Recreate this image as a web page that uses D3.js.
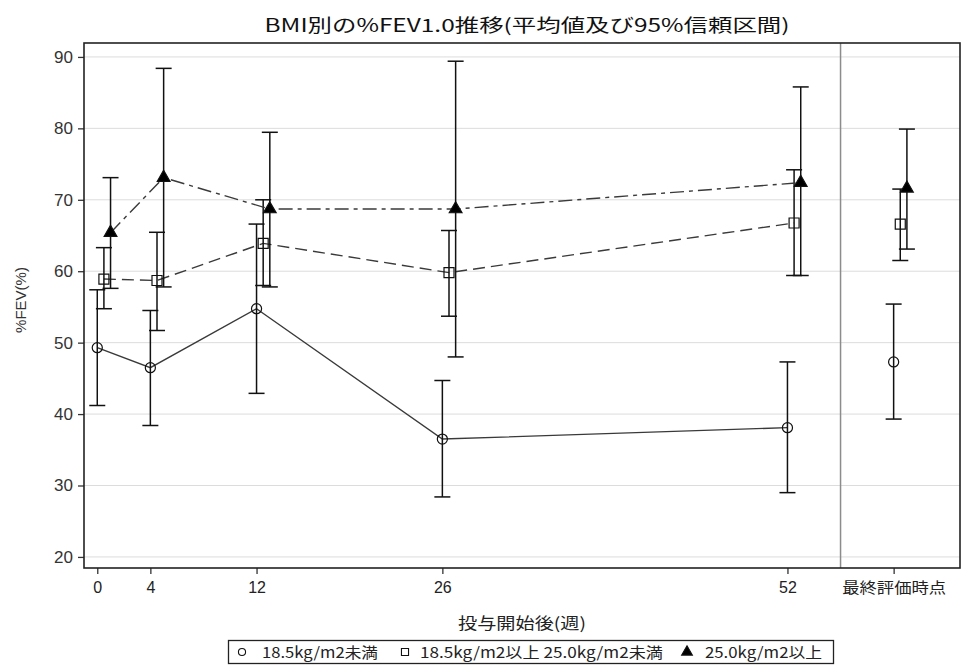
<!DOCTYPE html>
<html>
<head>
<meta charset="utf-8">
<script src="https://cdn.jsdelivr.net/npm/d3@7"></script>
<style>
  body { margin: 0; background: #fff; }
  svg { display: block; }
</style>
</head>
<body>
<svg id="chart" width="963" height="669"></svg>
<script>
// Visits (weeks after start) and the final assessment column
const weeks = [0, 4, 12, 26, 52];
const xTickLabels = ["0", "4", "12", "26", "52", "最終評価時点"];
const yTicks = [20, 30, 40, 50, 60, 70, 80, 90];
const groups = ["18.5kg/m2未満", "18.5kg/m2以上 25.0kg/m2未満", "25.0kg/m2以上"];

// %FEV1.0 mean and 95% CI per visit (weeks 0,4,12,26,52, final)
const meanLow  = [49.3, 46.5, 54.75, 36.5, 38.1, 47.3];
const lowerLow = [41.2, 38.4, 42.9, 28.4, 29.0, 39.3];
const upperLow = [57.4, 54.5, 66.6, 44.7, 47.3, 55.4];

const meanMid  = [58.9, 58.7, 63.9, 59.8, 66.75, 66.6];
const lowerMid = [54.75, 51.7, 58.0, 53.7, 59.4, 61.5];
const upperMid = [63.3, 65.45, 70.0, 65.7, 74.2, 71.5];

const meanHigh  = [65.4, 73.1, 68.7, 68.7, 72.4, 71.6];
const lowerHigh = [57.6, 57.8, 57.8, 48.0, 59.4, 63.1];
const upperHigh = [73.1, 88.4, 79.45, 89.4, 85.8, 79.9];

// ---- layout ----
const W = 963, H = 669;
const plot = { left: 84, right: 960, top: 43, bottom: 568 };
const FINAL_POS = 60;     // axis slot for the final assessment column
const SEPARATOR_POS = 56; // divider between the week panel and final column
const CAP = 8;            // half-width of error bar caps

const svg = d3.select("#chart");
svg.append("rect").attr("width", W).attr("height", H).attr("fill", "#fff");

const x = d3.scaleLinear().domain([-1, 65]).range([plot.left, plot.right]);
const y = d3.scaleLinear().domain([18.45, 91.95]).range([plot.bottom, plot.top]);

const visitPos = i => (i < weeks.length ? weeks[i] : FINAL_POS);

const series = [
  { name: groups[0], mean: meanLow,  lower: lowerLow,  upper: upperLow,  dodge: 0,   symbol: d3.symbolCircle,   size: 80,  filled: false, dash: null },
  { name: groups[1], mean: meanMid,  lower: lowerMid,  upper: upperMid,  dodge: 0.5, symbol: d3.symbolSquare,   size: 100, filled: false, dash: "12,6" },
  { name: groups[2], mean: meanHigh, lower: lowerHigh, upper: upperHigh, dodge: 1.0, symbol: d3.symbolTriangle, size: 70,  filled: true,  dash: "14,5,4,5" }
];

// ---- grid ----
svg.append("g").selectAll("line").data(yTicks).join("line")
  .attr("x1", plot.left).attr("x2", plot.right)
  .attr("y1", d => y(d)).attr("y2", d => y(d))
  .attr("stroke", "#dcdcdc").attr("stroke-width", 1);

// divider before the final assessment column
svg.append("line")
  .attr("x1", x(SEPARATOR_POS)).attr("x2", x(SEPARATOR_POS))
  .attr("y1", plot.top).attr("y2", plot.bottom)
  .attr("stroke", "#8c8c8c").attr("stroke-width", 1.5);

// ---- axes ----
const fontLatin = "'Liberation Sans', Arial, sans-serif";
const fontCJK = "'Noto Sans CJK JP', 'Noto Sans', sans-serif";

const yAxis = svg.append("g")
  .attr("transform", `translate(${plot.left},0)`)
  .call(d3.axisLeft(y).tickValues(yTicks).tickSize(6).tickPadding(5));
yAxis.attr("font-size", null).attr("font-family", null);
yAxis.select(".domain").remove();
yAxis.selectAll(".tick line").attr("stroke", "#333").attr("stroke-width", 1.3);
yAxis.selectAll(".tick text")
  .style("font-family", fontLatin).style("font-size", "17px")
  .attr("fill", "#333");

const xAxis = svg.append("g")
  .attr("transform", `translate(0,${plot.bottom})`)
  .call(d3.axisBottom(x).tickValues([...weeks, FINAL_POS]).tickSize(6).tickPadding(8)
    .tickFormat((d, i) => xTickLabels[i]));
xAxis.attr("font-size", null).attr("font-family", null);
xAxis.select(".domain").remove();
xAxis.selectAll(".tick line").attr("stroke", "#333").attr("stroke-width", 1.3);
xAxis.selectAll(".tick text")
  .style("font-family", (d, i) => i < weeks.length ? fontLatin : fontCJK)
  .style("font-size", (d, i) => i < weeks.length ? "16px" : "15px")
  .attr("fill", "#222")
  .each(function(d, i) {
    if (i === weeks.length) d3.select(this).attr("textLength", 104).attr("lengthAdjust", "spacingAndGlyphs");
  });

// ---- series ----
const line = d3.line().x(d => d.px).y(d => d.py);

series.forEach(s => {
  const pts = s.mean.map((m, i) => ({
    px: x(visitPos(i) + s.dodge),
    py: y(m),
    lo: y(s.lower[i]),
    hi: y(s.upper[i]),
    i
  }));
  const g = svg.append("g");

  // connecting line over the weekly visits only
  g.append("path")
    .datum(pts.slice(0, weeks.length))
    .attr("d", line)
    .attr("fill", "none")
    .attr("stroke", "#3a3a3a")
    .attr("stroke-width", 1.4)
    .attr("stroke-dasharray", s.dash);

  // 95% CI bars
  const eb = g.append("g").attr("stroke", "#111").attr("stroke-width", 1.5).attr("fill", "none");
  eb.selectAll("line.v").data(pts).join("line").attr("class", "v")
    .attr("x1", d => d.px).attr("x2", d => d.px).attr("y1", d => d.lo).attr("y2", d => d.hi);
  eb.selectAll("line.cu").data(pts).join("line").attr("class", "cu")
    .attr("x1", d => d.px - CAP).attr("x2", d => d.px + CAP).attr("y1", d => d.hi).attr("y2", d => d.hi);
  eb.selectAll("line.cl").data(pts).join("line").attr("class", "cl")
    .attr("x1", d => d.px - CAP).attr("x2", d => d.px + CAP).attr("y1", d => d.lo).attr("y2", d => d.lo);

  // markers
  g.selectAll("path.m").data(pts).join("path").attr("class", "m")
    .attr("d", d3.symbol().type(s.symbol).size(s.size))
    .attr("transform", d => `translate(${d.px},${d.py})`)
    .attr("fill", s.filled ? "#000" : "none")
    .attr("stroke", "#111")
    .attr("stroke-width", 1.2);
});

// ---- frame ----
svg.append("rect")
  .attr("x", plot.left).attr("y", plot.top)
  .attr("width", plot.right - plot.left).attr("height", plot.bottom - plot.top)
  .attr("fill", "none").attr("stroke", "#222").attr("stroke-width", 1.6);

// ---- titles ----
svg.append("text")
  .attr("x", 527).attr("y", 32)
  .attr("text-anchor", "middle")
  .attr("font-family", fontCJK).attr("font-size", 18).attr("font-weight", 400)
  .attr("fill", "#111")
  .attr("textLength", 525).attr("lengthAdjust", "spacingAndGlyphs")
  .text("BMI別の%FEV1.0推移(平均値及び95%信頼区間)");

svg.append("text")
  .attr("transform", "translate(26,300) rotate(-90)")
  .attr("text-anchor", "middle")
  .attr("font-family", fontLatin).attr("font-size", 15).attr("fill", "#333")
  .text("%FEV(%)");

svg.append("text")
  .attr("x", 522).attr("y", 629)
  .attr("text-anchor", "middle")
  .attr("font-family", fontCJK).attr("font-size", 16).attr("fill", "#222")
  .attr("textLength", 128).attr("lengthAdjust", "spacingAndGlyphs")
  .text("投与開始後(週)");

// ---- legend ----
const legend = svg.append("g");
legend.append("rect")
  .attr("x", 228.5).attr("y", 640.5).attr("width", 605).attr("height", 23)
  .attr("fill", "#fff").attr("stroke", "#222").attr("stroke-width", 1.3);

const legendItems = [
  { sym: d3.symbolCircle,   size: 40, filled: false, sx: 242, tx: 262, tw: 116 },
  { sym: d3.symbolSquare,   size: 50, filled: false, sx: 405, tx: 420, tw: 243 },
  { sym: d3.symbolTriangle, size: 50, filled: true,  sx: 687, tx: 705, tw: 117 }
];
legendItems.forEach((it, i) => {
  legend.append("path")
    .attr("d", d3.symbol().type(it.sym).size(it.size))
    .attr("transform", `translate(${it.sx},652)`)
    .attr("fill", it.filled ? "#000" : "none")
    .attr("stroke", "#111").attr("stroke-width", 1.1);
  legend.append("text")
    .attr("x", it.tx).attr("y", 658)
    .attr("font-family", fontCJK).attr("font-size", 15).attr("fill", "#222")
    .attr("textLength", it.tw).attr("lengthAdjust", "spacingAndGlyphs")
    .text(groups[i]);
});
</script>
</body>
</html>
